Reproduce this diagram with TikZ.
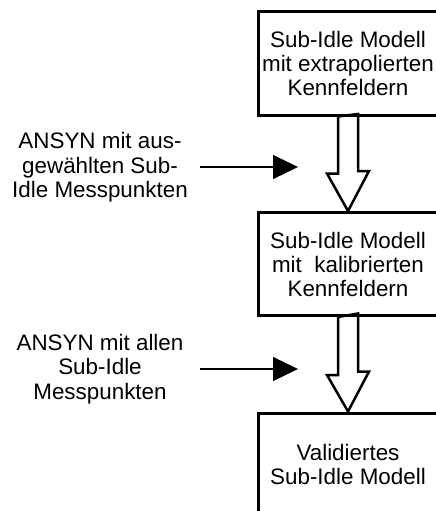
\documentclass[tikz,border=0pt]{standalone}
\usepackage{fontspec}
\setmainfont{Liberation Sans}
\usetikzlibrary{arrows.meta,calc}
\begin{document}
\begin{tikzpicture}[x=1pt,y=-1pt,
  modell/.style={rectangle,draw,line width=3pt,minimum width=180pt,minimum height=103pt,
    align=center,inner sep=0pt,font=\fontsize{22.4}{24}\selectfont},
  eingabe/.style={align=center,inner sep=0pt,font=\fontsize{22.4}{24.5}\selectfont},
  hohlpfeil/.style={draw,line width=2.5pt,line join=miter},
  zupfeil/.style={draw,line width=1.2pt,-{Triangle[length=25pt,width=24pt]}},
  node distance=200.5pt]
  \useasboundingbox (0,0) rectangle (436,511);
  % Modelle
  \path (348,63.5) node[modell] (A) {Sub-Idle Modell\\mit extrapolierten\\Kennfeldern};
  \path node[modell,below of=A] (B) {Sub-Idle Modell\\mit\ \ kalibrierten\\Kennfeldern};
  \path node[modell,below of=B] (C) {Validiertes\\Sub-Idle Modell};
  % Eingaben
  \path (100,167.5) node[eingabe] (E1) {ANSYN mit aus-\\gew\"ahlten Sub-\\Idle Messpunkten};
  \path (100,369) node[eingabe] (E2) {ANSYN mit allen\\Sub-Idle\\Messpunkten};
  \coordinate (s1) at (200,167);
  \coordinate (z1) at (298,167);
  \coordinate (s2) at (200,369);
  \coordinate (z2) at (298,369);
  \draw[zupfeil] (s1) -- (z1);
  \draw[zupfeil] (s2) -- (z2);
  % Hohlpfeile
  \path[hohlpfeil] ($(A.south)+(-10,0)$) -- ++(0,57) -- ++(-11,0) -- (B.north)
    -- ++(21,-40) -- ++(-11,0) -- ++(0,-57) -- cycle;
  \path[hohlpfeil] ($(B.south)+(-10,0)$) -- ++(0,58) -- ++(-11,0) -- (C.north)
    -- ++(21,-40) -- ++(-11,0) -- ++(0,-58) -- cycle;
\end{tikzpicture}
\end{document}
